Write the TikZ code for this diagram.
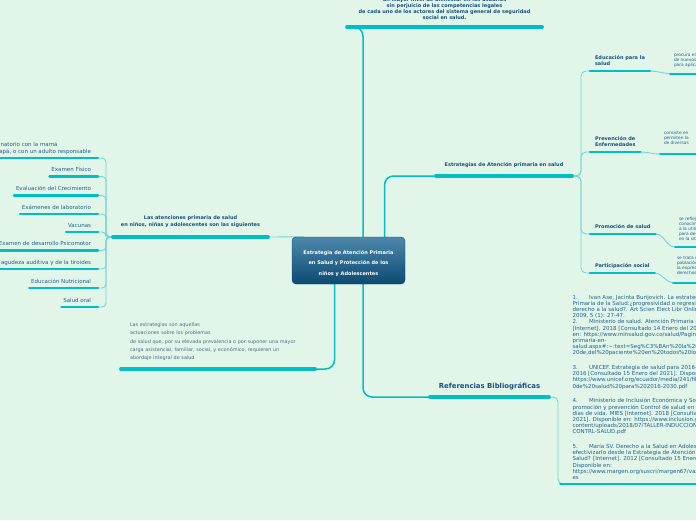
\documentclass[tikz,border=0pt]{standalone}
\usepackage{fontspec}
\setmainfont{DejaVu Sans}
\usetikzlibrary{backgrounds}

\definecolor{bgc}{RGB}{225,246,232}
\definecolor{barc}{RGB}{0,190,195}
\definecolor{linkc}{RGB}{115,214,208}
\definecolor{ink}{RGB}{25,80,125}
\definecolor{ink2}{RGB}{35,95,140}
\definecolor{inkg}{RGB}{75,110,135}
\definecolor{ctrtop}{RGB}{78,136,172}
\definecolor{ctrbot}{RGB}{12,74,114}

\tikzset{
  lbl/.style={anchor=south, font=\bfseries\fontsize{5}{6.8}\selectfont, text=ink, align=center, text depth=1.2pt, outer sep=0pt},
  itm/.style={anchor=south east, font=\fontsize{5.5}{6.5}\selectfont, text=ink2, inner xsep=2pt, inner ysep=3.8pt, text depth=1.2pt, outer sep=0pt},
  sub/.style={anchor=south west, font=\bfseries\fontsize{5}{6.6}\selectfont, text=ink, inner xsep=5pt, inner ysep=4pt, text depth=1.2pt, outer sep=0pt},
  desc/.style={anchor=south west, font=\fontsize{4.3}{5}\selectfont, text=ink2, align=left, inner xsep=4pt, text depth=1.2pt, outer sep=0pt},
  ctrbox/.style={rounded corners=4pt, top color=ctrtop, bottom color=ctrbot, draw=ctrbot, line width=0.4pt, minimum width=113pt, minimum height=47pt, text=white, font=\bfseries\fontsize{5}{10.3}\selectfont, align=center, text height=30.3pt, text depth=1.1pt, inner ysep=3pt},
  bar/.style={draw=barc, line width=3.8pt, line cap=round},
  sbar/.style={draw=barc, line width=2.4pt, line cap=round},
  link/.style={draw=linkc, line width=0.9pt},
  mlink/.style={draw=barc, line width=1.5pt, rounded corners=9pt},
}

\begin{document}
\begin{tikzpicture}[x=1pt, y=-1pt]
  \useasboundingbox (0,0) rectangle (696,520);

  % central topic
  \node[ctrbox] (ctr) at (348.5,260.5) {Estrategia de Atención Primaria\\en Salud y Protección de los\\niños y Adolescentes};

  % main branches
  \node[lbl, minimum width=195pt, inner ysep=6.2pt, font=\bfseries\fontsize{5}{6}\selectfont] (top) at (444.5,27)
    {un mayor nivel de bienestar en los usuarios\\sin perjuicio de las competencias legales\\de cada uno de los actores del sistema general de seguridad\\social en salud.};
  \node[lbl, minimum width=136pt, inner ysep=8.2pt] (est) at (504,176) {Estrategias de Atención primaria en salud};
  \node[lbl, minimum width=155pt, inner ysep=9.2pt, font=\bfseries\fontsize{5}{7}\selectfont] (att) at (190.5,237)
    {Las atenciones primaria de salud\\en niños, niñas y adolescentes son las siguientes};
  \node[lbl, minimum width=119pt, inner ysep=7.3pt, font=\bfseries\fontsize{6.9}{8}\selectfont] (ref) at (489.5,397) {Referencias Bibliográficas};
  \node[anchor=south west, text width=176pt, align=left, inner xsep=9pt, inner ysep=8.2pt, outer sep=0pt,
        font=\fontsize{4.9}{8.3}\selectfont, text=inkg] (bot) at (121,369)
    {Las estrategias son aquellas\\actuaciones sobre los problemas\\de salud que, por su elevada prevalencia o por suponer una mayor\\carga asistencial, familiar, social, y económico, requieren un\\abordaje integral de salud};

  % left list
  \node[itm, align=left] (i1) at (93,158) {del sanatorio con la mamá\\y el papá, o con un adulto responsable};
  \node[itm] (i2) at (93,176.5) {Examen Físico};
  \node[itm] (i3) at (93,195.5) {Evaluación del Crecimiento};
  \node[itm] (i4) at (93,214) {Exámenes de laboratorio};
  \node[itm] (i5) at (93,232) {Vacunas};
  \node[itm] (i6) at (93,250.5) {Examen de desarrollo Psicomotor};
  \node[itm] (i7) at (93,269) {Tamizaje de agudeza auditiva y de la tiroides};
  \node[itm] (i8) at (93,288) {Educación Nutricional};
  \node[itm] (i9) at (93,307) {Salud oral};

  % right list
  \node[sub, align=left] (s1) at (590,71) {Educación para la\\salud};
  \node[sub, align=center] (s2) at (590,152) {Prevención de\\Enfermedades};
  \node[sub] (s3) at (590,234) {Promoción de salud};
  \node[sub] (s4) at (590,273) {Participación social};
  \node[desc, inner ysep=6pt] (d1) at (670,73.5) {procura el\\de nuevos\\para aplicar};
  \node[desc, inner ysep=8pt] (d2) at (660,154) {consiste en\\permiten la\\de diversas};
  \node[desc, inner ysep=5.8pt] (d3) at (675,247) {se refleja\\conocimiento\\a la utilización\\para decidir\\en la situación};
  \node[desc, inner ysep=6.7pt] (d4) at (673,282.5) {se trata de\\población\\la expresión\\derechos};

  % references
  \node[anchor=south west, align=left, inner xsep=12.5pt, inner ysep=3.3pt, text depth=1.2pt, outer sep=0pt,
        font=\fontsize{5.5}{6.2}\selectfont, text=ink2] (refs) at (560,484)
    {\makebox[16.5pt][l]{1.}Ivan Ase, Jacinta Burijovich. La estrategia de Atención\\
     Primaria de la Salud:¿progresividad o regresividad en el\\
     derecho a la salud?. Art Scien Elect Libr Online.\\
     2009, 5 (1): 27-47.\\
     \makebox[16.5pt][l]{2.}Ministerio de salud. Atención Primaria en Salud\\
     {[}Internet{]}. 2018 [Consultado 14 Enero del 2021]. Disponible\\
     en: https://www.minsalud.gov.co/salud/PaginasAtencion-\\
     primaria-en-\\
     salud.aspx\#:\textasciitilde:text=Seg\%C3\%BAn\%20la\%20OMS\\
     20de,del\%20paciente\%20en\%20todos\%20los\\[8.5pt]
     \makebox[16.5pt][l]{3.}UNICEF. Estrategia de salud para 2016-2030\\
     2016 [Consultado 15 Enero del 2021]. Disponible en:\\
     https://www.unicef.org/ecuador/media/241/file/\\
     0de\%20salud\%20para\%202016-2030.pdf\\[8.5pt]
     \makebox[16.5pt][l]{4.}Ministerio de Inclusión Económica y Social.\\
     promoción y prevención Control de salud en los\\
     días de vida. MIES [Internet]. 2018 [Consultado\\
     2021]. Disponible en: https://www.inclusion.gob.ec/wp-\\
     content/uploads/2018/07/TALLER-INDUCCION-\\
     CONTRL-SALUD.pdf\\[8.5pt]
     \makebox[16.5pt][l]{5.}María SV. Derecho a la Salud en Adolescentes\\
     efectivizarlo desde la Estrategia de Atención Primaria\\
     Salud? [Internet]. 2012 [Consultado 15 Enero\\
     Disponible en:\\
     https://www.margen.org/suscri/margen67/vazquez\\
     es};

  \begin{scope}[on background layer]
    \fill[bgc] (0,0) rectangle (696,520);
    % connectors
    \draw[mlink] ([xshift=14.5pt]ctr.north) |- (top.south west);
    \draw[mlink] ([xshift=36pt]ctr.north) |- (est.south west);
    \draw[mlink] ([xshift=14.5pt]ctr.south) |- (ref.south west);
    \draw[mlink] ([xshift=-14pt]ctr.south) |- (bot.south east);
    \draw[link] (att.south east) -- ([xshift=12pt]ctr.north west);
    \foreach \i in {1,...,9}
      \draw[link, rounded corners=4pt] (att.south west) -- ++(-7,0) |- ([xshift=5pt]i\i.south east);
    \foreach \i in {1,...,4} {
      \draw[link, rounded corners=5pt] (est.south east) -- ++(9,0) |- (s\i.south west);
      \draw[link] (s\i.south east) to[out=0, in=180] (d\i.south west);
    }
    \draw[link, rounded corners=5pt] (ref.south east) -- ++(9,0) |- (refs.south west);
  \end{scope}

  % underline bars
  \foreach \n in {top, est, att, ref, bot}
    \draw[bar] (\n.south west) -- (\n.south east);
  \foreach \i in {1,...,9}
    \draw[sbar] (i\i.south west) -- ([xshift=5pt]i\i.south east);
  \foreach \i in {1,...,4} {
    \draw[sbar] (s\i.south west) -- (s\i.south east);
    \draw[sbar, line width=2pt] (d\i.south west) -- ++(60,0);
  }
  \draw[sbar, line width=2pt] (refs.south west) -- ++(150,0);
\end{tikzpicture}
\end{document}
